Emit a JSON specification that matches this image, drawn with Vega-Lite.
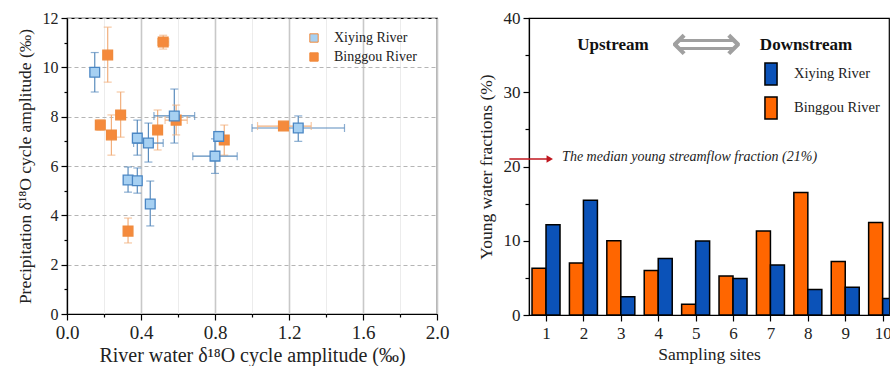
{
  "$schema": "https://vega.github.io/schema/vega-lite/v6.json",
  "padding": {"left": 15, "top": 8, "right": 0, "bottom": 0},
  "config": {
    "font": "Liberation Serif",
    "view": {"stroke": "black", "strokeWidth": 1.2},
    "axis": {"domainColor": "black", "tickColor": "black", "labelColor": "#222", "titleColor": "#222", "titleFontWeight": "normal", "domainWidth": 1.2, "tickWidth": 1.2, "labelOverlap": false}
  },
  "datasets": {
    "scatter": [
      {"river": "Binggou River", "x": 0.22, "y": 10.5, "ylo": 9.4, "yhi": 11.63},
      {"river": "Binggou River", "x": 0.52, "y": 11.03, "ylo": 10.74, "yhi": 11.3, "xlo": 0.49, "xhi": 0.55},
      {"river": "Binggou River", "x": 0.18, "y": 7.66, "ylo": 7.45, "yhi": 7.86},
      {"river": "Binggou River", "x": 0.29, "y": 8.07, "ylo": 7.17, "yhi": 9.0},
      {"river": "Binggou River", "x": 0.24, "y": 7.26, "ylo": 6.44, "yhi": 8.07},
      {"river": "Binggou River", "x": 0.49, "y": 7.46, "ylo": 6.65, "yhi": 8.27},
      {"river": "Binggou River", "x": 0.59, "y": 7.86, "ylo": 7.26, "yhi": 8.47, "xlo": 0.53, "xhi": 0.65},
      {"river": "Binggou River", "x": 0.85, "y": 7.05, "ylo": 6.44, "yhi": 7.66},
      {"river": "Binggou River", "x": 1.17, "y": 7.62, "ylo": 7.55, "yhi": 7.75, "xlo": 1.03, "xhi": 1.32},
      {"river": "Binggou River", "x": 0.33, "y": 3.36, "ylo": 2.88, "yhi": 3.89},
      {"river": "Xiying River", "x": 0.15, "y": 9.8, "ylo": 9.0, "yhi": 10.6},
      {"river": "Xiying River", "x": 0.58, "y": 8.03, "ylo": 6.93, "yhi": 9.12, "xlo": 0.47, "xhi": 0.69},
      {"river": "Xiying River", "x": 0.38, "y": 7.13, "ylo": 6.44, "yhi": 7.86},
      {"river": "Xiying River", "x": 0.44, "y": 6.93, "ylo": 6.16, "yhi": 7.74, "xlo": 0.36, "xhi": 0.52},
      {"river": "Xiying River", "x": 0.82, "y": 7.2, "ylo": 7.0, "yhi": 7.4},
      {"river": "Xiying River", "x": 0.8, "y": 6.4, "ylo": 5.7, "yhi": 7.1, "xlo": 0.68, "xhi": 0.92},
      {"river": "Xiying River", "x": 1.25, "y": 7.54, "ylo": 7.0, "yhi": 8.03, "xlo": 1.0, "xhi": 1.5},
      {"river": "Xiying River", "x": 0.33, "y": 5.43, "ylo": 4.94, "yhi": 5.96},
      {"river": "Xiying River", "x": 0.38, "y": 5.4, "ylo": 4.9, "yhi": 5.92},
      {"river": "Xiying River", "x": 0.45, "y": 4.46, "ylo": 3.57, "yhi": 5.39}
    ],
    "bars": [
      {"site": 1, "river": "Binggou River", "value": 6.3},
      {"site": 2, "river": "Binggou River", "value": 7.0},
      {"site": 3, "river": "Binggou River", "value": 10.0},
      {"site": 4, "river": "Binggou River", "value": 6.0},
      {"site": 5, "river": "Binggou River", "value": 1.45},
      {"site": 6, "river": "Binggou River", "value": 5.25},
      {"site": 7, "river": "Binggou River", "value": 11.3},
      {"site": 8, "river": "Binggou River", "value": 16.5},
      {"site": 9, "river": "Binggou River", "value": 7.2},
      {"site": 10, "river": "Binggou River", "value": 12.45},
      {"site": 1, "river": "Xiying River", "value": 12.15},
      {"site": 2, "river": "Xiying River", "value": 15.45},
      {"site": 3, "river": "Xiying River", "value": 2.45},
      {"site": 4, "river": "Xiying River", "value": 7.6},
      {"site": 5, "river": "Xiying River", "value": 9.98},
      {"site": 6, "river": "Xiying River", "value": 4.9},
      {"site": 7, "river": "Xiying River", "value": 6.73},
      {"site": 8, "river": "Xiying River", "value": 3.45},
      {"site": 9, "river": "Xiying River", "value": 3.75},
      {"site": 10, "river": "Xiying River", "value": 2.22}
    ]
  },
  "spacing": 26,
  "resolve": {"scale": {"color": "independent", "fill": "independent"}, "legend": {"color": "independent", "fill": "independent"}},
  "hconcat": [
    {
      "width": 370,
      "height": 296,
      "data": {"name": "scatter"},
      "encoding": {
        "x": {
          "field": "x", "type": "quantitative",
          "scale": {"domain": [0, 2], "nice": false},
          "axis": {
            "title": "River water δ¹⁸O cycle amplitude (‰)",
            "values": [0, 0.2, 0.4, 0.6, 0.8, 1.0, 1.2, 1.4, 1.6, 1.8, 2.0],
            "labelExpr": "abs(datum.value/0.4 - round(datum.value/0.4)) < 0.01 ? format(datum.value, '.1f') : ''",
            "tickSize": {"condition": {"test": "abs(datum.value/0.4 - round(datum.value/0.4)) < 0.01", "value": 6}, "value": 3},
            "gridColor": {"condition": {"test": "abs(datum.value/0.4 - round(datum.value/0.4)) < 0.01", "value": "#c8c8c8"}, "value": "#ececec"},
            "gridWidth": {"condition": {"test": "abs(datum.value/0.4 - round(datum.value/0.4)) < 0.01", "value": 1.6}, "value": 1},
            "labelFontSize": 19, "titleFontSize": 20, "labelPadding": 3, "titlePadding": 3, "labelFlush": false, "labelOverlap": false
          }
        },
        "y": {
          "field": "y", "type": "quantitative",
          "scale": {"domain": [0, 12], "nice": false},
          "axis": {
            "title": "Precipitation δ¹⁸O cycle amplitude (‰)",
            "values": [0, 1, 2, 3, 4, 5, 6, 7, 8, 9, 10, 11, 12],
            "labelExpr": "datum.value % 2 === 0 ? datum.label : ''",
            "tickSize": {"condition": {"test": "datum.value % 2 === 0", "value": 6}, "value": 3},
            "gridDash": [4, 3],
            "gridColor": "#b5b5b5",
            "gridOpacity": {"condition": {"test": "datum.value % 2 === 0", "value": 1}, "value": 0},
            "labelFontSize": 16, "titleFontSize": 17.5, "labelPadding": 3, "titlePadding": 8
          }
        }
      },
      "layer": [
        {
          "mark": {"type": "rule", "strokeWidth": 1.2},
          "encoding": {
            "y": {"field": "ylo", "type": "quantitative"},
            "y2": {"field": "yhi"},
            "stroke": {"condition": {"test": "datum.river === 'Xiying River'", "value": "#5a8cbd"}, "value": "#f2b07e"}
          }
        },
        {
          "mark": {"type": "tick", "orient": "horizontal", "size": 8, "thickness": 1.2},
          "encoding": {
            "y": {"field": "ylo", "type": "quantitative"},
            "color": {"condition": {"test": "datum.river === 'Xiying River'", "value": "#5a8cbd"}, "value": "#f2b07e"}
          }
        },
        {
          "mark": {"type": "tick", "orient": "horizontal", "size": 8, "thickness": 1.2},
          "encoding": {
            "y": {"field": "yhi", "type": "quantitative"},
            "color": {"condition": {"test": "datum.river === 'Xiying River'", "value": "#5a8cbd"}, "value": "#f2b07e"}
          }
        },
        {
          "transform": [{"filter": "isValid(datum.xlo)"}],
          "mark": {"type": "rule", "strokeWidth": 1.2},
          "encoding": {
            "x": {"field": "xlo", "type": "quantitative"},
            "x2": {"field": "xhi"},
            "stroke": {"condition": {"test": "datum.river === 'Xiying River'", "value": "#5a8cbd"}, "value": "#f2b07e"}
          }
        },
        {
          "transform": [{"filter": "isValid(datum.xlo)"}],
          "mark": {"type": "tick", "orient": "vertical", "size": 8, "thickness": 1.2},
          "encoding": {
            "x": {"field": "xlo", "type": "quantitative"},
            "color": {"condition": {"test": "datum.river === 'Xiying River'", "value": "#5a8cbd"}, "value": "#f2b07e"}
          }
        },
        {
          "transform": [{"filter": "isValid(datum.xlo)"}],
          "mark": {"type": "tick", "orient": "vertical", "size": 8, "thickness": 1.2},
          "encoding": {
            "x": {"field": "xhi", "type": "quantitative"},
            "color": {"condition": {"test": "datum.river === 'Xiying River'", "value": "#5a8cbd"}, "value": "#f2b07e"}
          }
        },
        {
          "mark": {"type": "square", "size": 95, "filled": true, "opacity": 1, "strokeWidth": 1.3},
          "encoding": {
            "fill": {
              "field": "river", "type": "nominal",
              "scale": {"domain": ["Xiying River", "Binggou River"], "range": ["#a6d0f2", "#f58a3c"]},
              "legend": {"title": null, "orient": "none", "legendX": 240, "legendY": 13, "labelFontSize": 14, "labelColor": "#222", "symbolType": "square", "symbolSize": 70, "symbolStrokeWidth": 1, "labelOffset": 13, "rowPadding": 5}
            },
            "stroke": {"condition": {"test": "datum.river === 'Xiying River'", "value": "#4a86c4"}, "value": "#f08a3c"}
          }
        }
      ]
    },
    {
      "width": 360,
      "height": 297,
      "encoding": {
        "x": {
          "type": "quantitative",
          "scale": {"domain": [0.545, 10.17], "nice": false, "zero": false, "padding": 0},
          "axis": {"title": "Sampling sites", "values": [1, 2, 3, 4, 5, 6, 7, 8, 9, 10], "format": "d", "grid": false, "tickSize": 6, "labelFontSize": 17, "titleFontSize": 17.5, "labelPadding": 4, "titlePadding": 4, "labelFlush": false, "labelOverlap": false, "labelBound": false}
        },
        "y": {
          "type": "quantitative",
          "scale": {"domain": [0, 40], "nice": false, "padding": 0},
          "axis": {"title": "Young water fractions (%)", "values": [0, 5, 10, 15, 20, 25, 30, 35, 40], "labelExpr": "datum.value % 10 === 0 ? datum.label : ''", "tickSize": {"condition": {"test": "datum.value % 10 === 0", "value": 6}, "value": 4}, "grid": false, "labelFontSize": 17, "titleFontSize": 17.5, "labelPadding": 3, "titlePadding": 8, "labelOverlap": false}
        }
      },
      "layer": [
        {
          "data": {"name": "bars"},
          "transform": [{"filter": "datum.river === 'Binggou River'"}],
          "mark": {"type": "bar", "width": 14, "xOffset": -7, "stroke": "black", "strokeWidth": 1.5, "clip": true},
          "encoding": {
            "x": {"field": "site", "type": "quantitative", "scale": {"domain": [0.545, 10.17], "nice": false, "zero": false, "padding": 0}, "axis": {"title": "Sampling sites", "values": [1, 2, 3, 4, 5, 6, 7, 8, 9, 10], "format": "d", "grid": false, "tickSize": 6, "labelFontSize": 17, "titleFontSize": 17.5, "labelPadding": 4, "titlePadding": 4, "labelFlush": false, "labelOverlap": false, "labelBound": false}},
            "y": {"field": "value", "type": "quantitative", "scale": {"domain": [0, 40], "nice": false, "padding": 0}},
            "color": {
              "field": "river", "type": "nominal",
              "scale": {"domain": ["Xiying River", "Binggou River"], "range": ["#0b52b8", "#ff6600"]},
              "legend": {"title": null, "orient": "none", "legendX": 230, "legendY": 44, "labelFontSize": 14.5, "labelColor": "#222", "symbolType": "M-0.55,-1H0.55V1H-0.55Z", "symbolSize": 484, "symbolStrokeColor": "black", "symbolStrokeWidth": 1.5, "symbolOpacity": 1, "labelOffset": 11, "rowPadding": 6}
            }
          }
        },
        {
          "data": {"name": "bars"},
          "transform": [{"filter": "datum.river === 'Xiying River'"}],
          "mark": {"type": "bar", "width": 14, "xOffset": 7, "stroke": "black", "strokeWidth": 1.5, "clip": true},
          "encoding": {
            "x": {"field": "site", "type": "quantitative", "scale": {"domain": [0.545, 10.17], "nice": false, "zero": false, "padding": 0}, "axis": {"title": "Sampling sites", "values": [1, 2, 3, 4, 5, 6, 7, 8, 9, 10], "format": "d", "grid": false, "tickSize": 6, "labelFontSize": 17, "titleFontSize": 17.5, "labelPadding": 4, "titlePadding": 4, "labelFlush": false, "labelOverlap": false, "labelBound": false}},
            "y": {"field": "value", "type": "quantitative", "scale": {"domain": [0, 40], "nice": false, "padding": 0}},
            "color": {"field": "river", "type": "nominal"}
          }
        },
        {
          "data": {"values": [{}]},
          "mark": {"type": "rule", "color": "#c0161e", "strokeWidth": 1.5},
          "encoding": {
            "x": {"datum": 0.02, "type": "quantitative"},
            "x2": {"datum": 1.08},
            "y": {"datum": 21, "type": "quantitative"}
          }
        },
        {
          "data": {"values": [{}]},
          "mark": {"type": "point", "shape": "triangle-right", "filled": true, "size": 55, "color": "#c0161e", "opacity": 1},
          "encoding": {
            "x": {"datum": 1.1, "type": "quantitative"},
            "y": {"datum": 21, "type": "quantitative"}
          }
        },
        {
          "data": {"values": [{}]},
          "mark": {"type": "text", "text": "The median young streamflow fraction (21%)", "align": "left", "baseline": "middle", "fontStyle": "italic", "fontSize": 14, "color": "#222"},
          "encoding": {
            "x": {"datum": 1.43, "type": "quantitative"},
            "y": {"datum": 21.3, "type": "quantitative"}
          }
        },
        {
          "data": {"values": [{}]},
          "mark": {"type": "text", "text": "Upstream", "align": "center", "baseline": "middle", "fontWeight": "bold", "fontSize": 17, "color": "#111"},
          "encoding": {
            "x": {"datum": 2.79, "type": "quantitative"},
            "y": {"datum": 36.3, "type": "quantitative"}
          }
        },
        {
          "data": {"values": [{}]},
          "mark": {"type": "text", "text": "Downstream", "align": "center", "baseline": "middle", "fontWeight": "bold", "fontSize": 17, "color": "#111"},
          "encoding": {
            "x": {"datum": 7.95, "type": "quantitative"},
            "y": {"datum": 36.3, "type": "quantitative"}
          }
        },
        {
          "data": {"values": [{}]},
          "mark": {"type": "text", "text": "⟺", "align": "center", "baseline": "middle", "font": "DejaVu Sans", "fontSize": 50, "color": "#a0a0a0"},
          "encoding": {
            "x": {"datum": 5.29, "type": "quantitative"},
            "y": {"datum": 36.3, "type": "quantitative"}
          }
        }
      ]
    }
  ]
}
